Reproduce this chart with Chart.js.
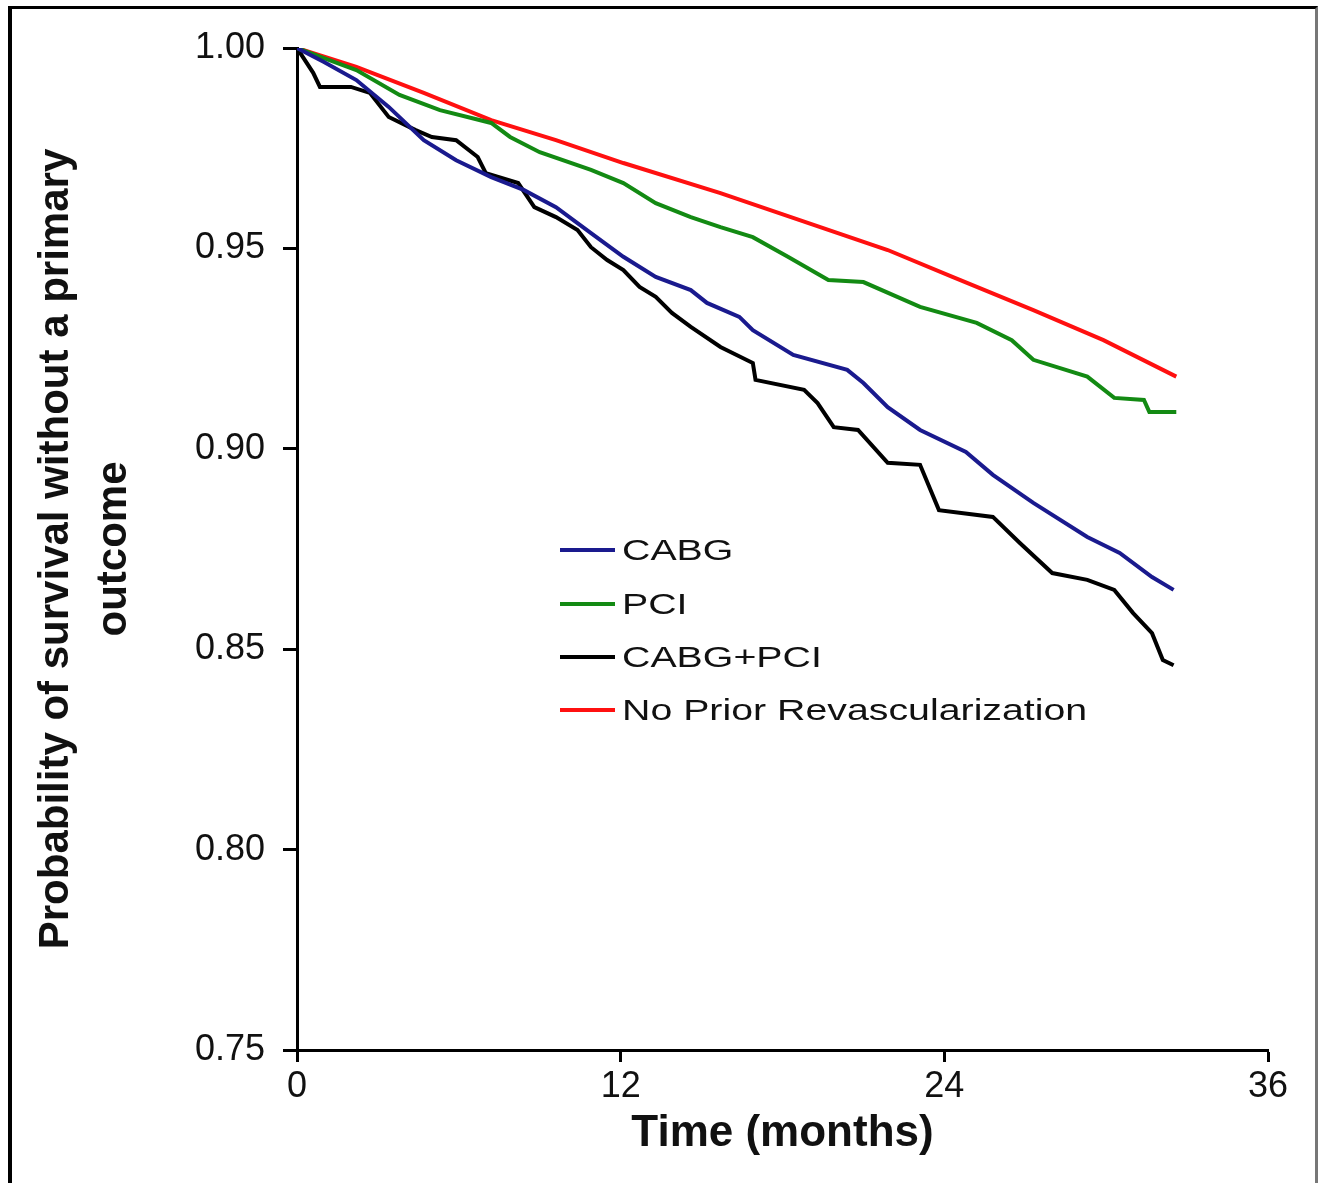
<!DOCTYPE html>
<html>
<head>
<meta charset="utf-8">
<script src="https://cdn.jsdelivr.net/npm/chart.js@4"></script>
<style>
  html, body { margin: 0; padding: 0; background: #fff; overflow: hidden; }
  #wrap { position: absolute; left: 0; top: 0; width: 1323px; height: 1183px; }
  #frame { position: absolute; left: 8px; top: 6px; width: 1303px; height: 1200px;
           border-left: 4px solid #000; border-top: 3px solid #000; border-right: 3px solid #777;
           pointer-events: none; }
</style>
</head>
<body>
<div id="wrap">
  <canvas id="c" width="1323" height="1183"></canvas>
  <div id="frame"></div>
</div>
<script>
// ---- data (months, survival probability) ----
const seriesNames = ["CABG", "PCI", "CABG+PCI", "No Prior Revascularization"];

const cabgMonths = [0, 1.0, 2.2, 3.4, 4.7, 5.9, 7.2, 8.4, 9.6, 10.9, 12.1, 13.3, 14.6, 15.2, 16.4, 16.9, 18.4, 20.4, 21.0, 21.9, 23.1, 24.8, 25.8, 27.3, 29.3, 30.5, 31.7, 32.5];
const cabgValues = [1.0, 0.9965, 0.992, 0.9853, 0.977, 0.972, 0.9678, 0.9646, 0.9603, 0.9538, 0.9479, 0.9429, 0.9396, 0.9364, 0.9329, 0.9296, 0.9234, 0.9197, 0.9164, 0.9104, 0.9047, 0.8992, 0.8935, 0.8865, 0.878, 0.874, 0.868, 0.8648];

const pciMonths = [0, 1.0, 2.2, 3.8, 5.3, 7.2, 7.9, 9.0, 10.9, 12.1, 13.3, 14.6, 15.7, 16.9, 18.2, 19.7, 21.0, 23.1, 25.2, 26.5, 27.3, 29.3, 30.3, 31.4, 31.6, 32.6];
const pciValues = [1.0, 0.9975, 0.9945, 0.9883, 0.9845, 0.9813, 0.9778, 0.974, 0.9696, 0.9663, 0.9613, 0.9578, 0.9553, 0.9528, 0.9479, 0.9421, 0.9416, 0.9354, 0.9314, 0.9271, 0.9222, 0.918, 0.9127, 0.9122, 0.9092, 0.9092];

const bothMonths = [0, 0.6, 0.85, 2.0, 2.7, 3.4, 4.4, 5.0, 5.9, 6.7, 7.0, 8.2, 8.8, 9.6, 10.4, 10.9, 11.5, 12.1, 12.7, 13.3, 13.9, 14.6, 15.7, 16.9, 17.0, 18.8, 19.3, 19.9, 20.8, 21.9, 23.1, 23.8, 25.8, 26.8, 28.0, 29.3, 30.3, 31.0, 31.7, 32.1, 32.5];
const bothValues = [1.0, 0.9938, 0.9903, 0.9903, 0.9888, 0.9828, 0.9795, 0.9778, 0.977, 0.9728, 0.9688, 0.9663, 0.9603, 0.9578, 0.9546, 0.9503, 0.9471, 0.9446, 0.9404, 0.9379, 0.9339, 0.9304, 0.9254, 0.9214, 0.9172, 0.9147, 0.9114, 0.9054, 0.9047, 0.8965, 0.896, 0.8847, 0.883, 0.8765, 0.869, 0.8673, 0.8648, 0.859, 0.854, 0.8473, 0.846];

const noneMonths = [0, 2.2, 4.7, 7.2, 9.6, 12.1, 15.7, 19.4, 21.9, 24.3, 27.3, 29.9, 32.6];
const noneValues = [1.0, 0.9953, 0.9888, 0.982, 0.977, 0.9713, 0.9638, 0.9553, 0.9496, 0.9429, 0.9346, 0.9271, 0.918];

const xTicks = [0, 12, 24, 36];
const yTicks = [0.75, 0.80, 0.85, 0.90, 0.95, 1.00];

// ---- build ----
const pts = (xs, ys) => xs.map((x, i) => ({ x: x, y: ys[i] }));
const colors = ["#1a1a8e", "#138a13", "#000000", "#ff1010"];
const seriesData = [
  pts(cabgMonths, cabgValues),
  pts(pciMonths, pciValues),
  pts(bothMonths, bothValues),
  pts(noneMonths, noneValues)
];
const FONT = "'Liberation Sans', Arial, Helvetica, sans-serif";

const legendPlugin = {
  id: 'insideLegend',
  afterDraw(chart) {
    const ctx = chart.ctx;
    const a = chart.chartArea;
    const x0 = a.left + 263, x1 = a.left + 318, tx = a.left + 325;
    const rows = [550, 604, 657, 710];
    const sx = 1.31;
    ctx.save();
    ctx.font = "30px " + FONT;
    ctx.textBaseline = 'middle';
    ctx.textAlign = 'left';
    chart.data.datasets.forEach((ds, i) => {
      const y = rows[i];
      ctx.strokeStyle = ds.borderColor;
      ctx.lineWidth = 4;
      ctx.beginPath(); ctx.moveTo(x0, y); ctx.lineTo(x1, y); ctx.stroke();
      ctx.save();
      ctx.translate(tx, y + 2);
      ctx.scale(sx, 1);
      ctx.fillStyle = '#111';
      ctx.fillText(ds.label, 0, 0);
      ctx.restore();
    });
    ctx.restore();
  }
};

new Chart(document.getElementById('c'), {
  type: 'line',
  data: {
    datasets: seriesNames.map((n, i) => ({
      label: n,
      data: seriesData[i],
      borderColor: colors[i],
      backgroundColor: colors[i],
      borderWidth: 4,
      pointRadius: 0,
      tension: 0,
      fill: false
    }))
  },
  options: {
    responsive: false,
    devicePixelRatio: 1,
    animation: false,
    layout: { padding: { top: 48, right: 55, bottom: 0, left: 0 } },
    plugins: { legend: { display: false }, tooltip: { enabled: false } },
    scales: {
      x: {
        type: 'linear', min: 0, max: 36,
        afterBuildTicks: s => { s.ticks = xTicks.map(v => ({ value: v })); },
        afterFit: s => { s.height = 133; },
        border: { display: true, color: '#000', width: 3 },
        grid: { drawOnChartArea: false, drawTicks: true, tickLength: 12, tickColor: '#000', tickWidth: 3, color: '#000' },
        ticks: { color: '#111', font: { family: FONT, size: 36 }, padding: 3, maxRotation: 0 },
        title: { display: true, text: 'Time (months)', color: '#111',
                 font: { family: FONT, size: 44, weight: 'bold', lineHeight: 1.2 }, padding: { top: 0, bottom: 23 } }
      },
      y: {
        type: 'linear', min: 0.75, max: 1.0,
        afterBuildTicks: s => { s.ticks = yTicks.map(v => ({ value: v })); },
        afterFit: s => { s.width = 297; },
        border: { display: true, color: '#000', width: 3 },
        grid: { drawOnChartArea: false, drawTicks: true, tickLength: 14, tickColor: '#000', tickWidth: 3, color: '#000' },
        ticks: { color: '#111', font: { family: FONT, size: 36 }, padding: 18,
                 callback: v => Number(v).toFixed(2) },
        title: { display: true, text: ['Probability of survival without a primary', 'outcome'], color: '#111',
                 font: { family: FONT, size: 42, weight: 'bold', lineHeight: '58px' }, padding: { top: 27, bottom: 0 } }
      }
    }
  },
  plugins: [legendPlugin]
});
</script>
</body>
</html>
